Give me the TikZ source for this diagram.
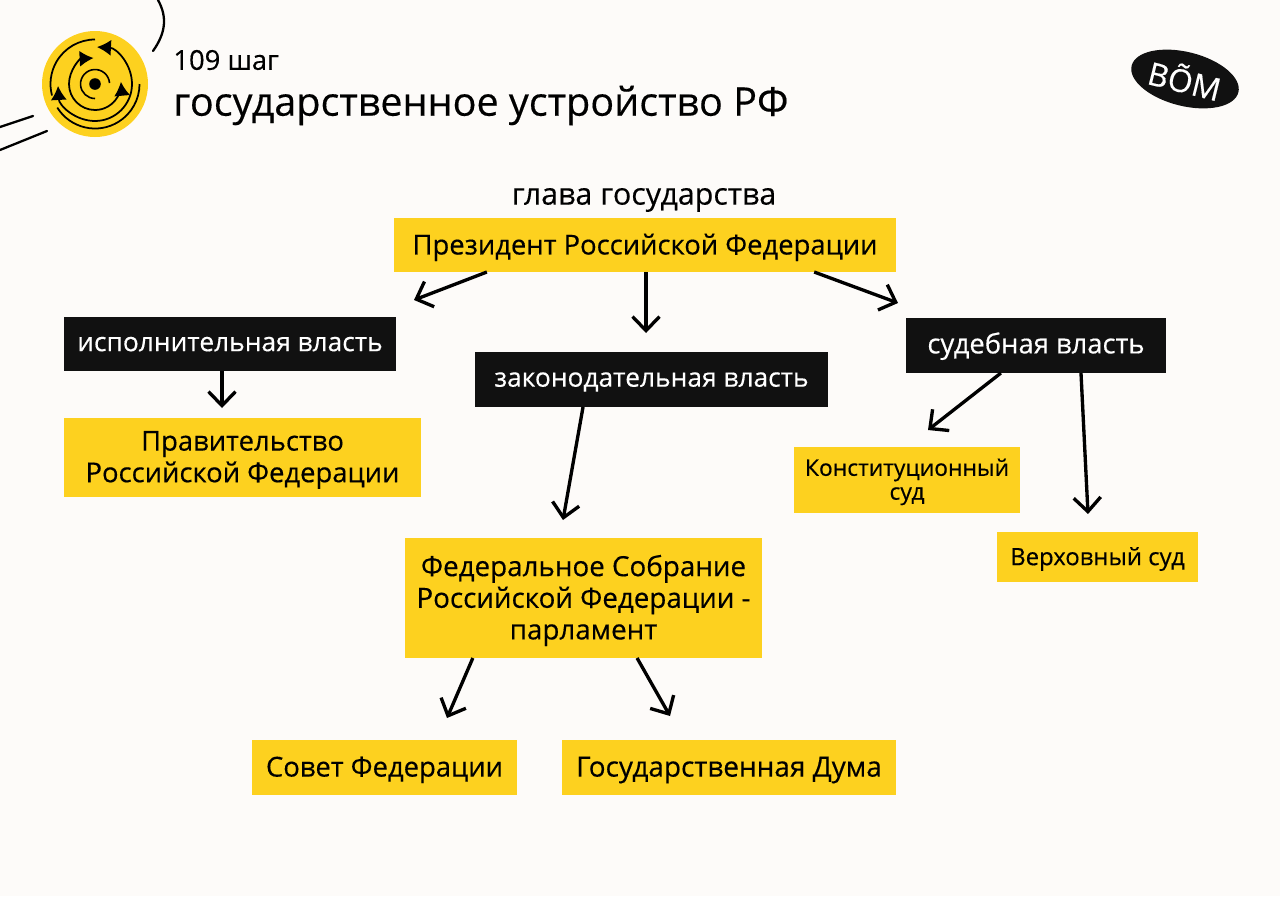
\documentclass[tikz,border=0pt]{standalone}
\usepackage{fontspec}
\setmainfont{Open Sans}[FakeBold=0.35]
\usetikzlibrary{arrows.meta,shapes.geometric,calc}
\definecolor{bgcream}{HTML}{FDFBF9}
\definecolor{boxyellow}{HTML}{FDD11F}
\definecolor{boxblack}{HTML}{111111}
\tikzset{
  yellowbox/.style={fill=boxyellow,text=black,inner sep=0pt,outer sep=0pt,align=center,text depth=1pt,font=\fontsize{15.6}{18}\selectfont},
  blackbox/.style={fill=boxblack,text=white,inner sep=0pt,outer sep=0pt,align=center,text depth=0pt,font=\fontsize{15}{18}\selectfont},
  arrowline/.style={line width=1.9pt,-{Straight Barb[length=2.8mm,width=5.4mm,line width=1.9pt]}},
  swoosh/.style={line width=1.3pt,line cap=round},
  badgehead/.style={line width=1pt,-{Latex[length=2.8mm,width=3.2mm]}},
}
\begin{document}
\begin{tikzpicture}[x=0.02cm,y=-0.02cm]
\useasboundingbox (0,0) rectangle (1280,896);
\fill[bgcream] (0,0) rectangle (1280,896);
% corner lines
\draw[swoosh] (158,0) .. controls (168,18) and (165,34) .. (153,51);
\draw[swoosh] (0,127) -- (33,116);
\draw[swoosh] (0,150) -- (47,131);
% round badge
\begin{scope}[shift={(95,84)},x=0.02cm,y=0.02cm]
\fill[boxyellow] (0,0) circle (53);
\fill[black] (0,0) circle (5.8);
\draw[line width=0.9pt] (14.5,1) arc[start angle=4,end angle=270,radius=14.5];
\draw[badgehead] (0,-26) arc[start angle=270,end angle=365,radius=26];
\draw[badgehead] (0,-26) arc[start angle=270,end angle=93,radius=26];
\draw[badgehead] (0,-37) arc[start angle=270,end angle=447,radius=37];
\draw[badgehead] (0,-37) arc[start angle=270,end angle=183,radius=37];
\draw[line width=1pt] (0,44.5) arc[start angle=90,end angle=195,radius=44.5];
\draw[line width=1pt] (-37.7,-23.6) arc[start angle=212,end angle=360,radius=44.5];
\end{scope}
% headings
\node[anchor=west,inner sep=0pt,font=\fontsize{15.6}{19}\selectfont] (stepnum) at (173,60) {109 шаг};
\node[anchor=west,inner sep=0pt,font=\fontsize{22.5}{25}\selectfont] (title) at (173,105.5) {государственное устройство РФ};
\node[ellipse,fill=boxblack,text=white,minimum width=110*0.02cm,minimum height=54*0.02cm,inner sep=0pt,rotate=-14,font=\fontsize{18}{20}\selectfont] (logo) at (1185,79) {ВÕМ};
\node[inner sep=0pt,font=\fontsize{17.3}{20}\selectfont] (headlabel) at (644,200) {глава государства};
% boxes
\node[yellowbox,minimum width=502*0.02cm,minimum height=54*0.02cm] (pres) at (645,245) {Президент Российской Федерации};
\node[blackbox,minimum width=332*0.02cm,minimum height=54*0.02cm] (exec) at (230,344) {исполнительная власть};
\node[blackbox,minimum width=353*0.02cm,minimum height=55*0.02cm] (legis) at (651.5,379.5) {законодательная власть};
\node[blackbox,minimum width=260*0.02cm,minimum height=55*0.02cm,text height=9pt,font=\fontsize{15.6}{18}\selectfont] (court) at (1036,345.5) {судебная власть};
\node[yellowbox,minimum width=357*0.02cm,minimum height=79*0.02cm] (gov) at (242.5,457.5) {Правительство\\Российской Федерации};
\node[yellowbox,minimum width=357*0.02cm,minimum height=120*0.02cm,font=\fontsize{15.8}{18}\selectfont] (fed) at (583.5,598) {Федеральное Собрание\\Российской Федерации -\\парламент};
\node[yellowbox,minimum width=226*0.02cm,minimum height=66*0.02cm,font=\fontsize{13}{13.6}\selectfont] (const) at (907,480) {Конституционный\\суд};
\node[yellowbox,minimum width=201*0.02cm,minimum height=50*0.02cm,font=\fontsize{13.6}{14}\selectfont] (supreme) at (1097.5,557) {Верховный суд};
\node[yellowbox,minimum width=265*0.02cm,minimum height=55*0.02cm] (council) at (384.5,767.5) {Совет Федерации};
\node[yellowbox,minimum width=334*0.02cm,minimum height=55*0.02cm,font=\fontsize{15.9}{18}\selectfont] (duma) at (729,767.5) {Государственная Дума};
% free arrow ends
\coordinate (tipexec) at (414,300);
\coordinate (tiplegis) at (646,333);
\coordinate (tipcourt) at (898,303);
\coordinate (tipgov) at (222,408);
\coordinate (tipfed) at (563,520);
\coordinate (tipconst) at (928,430);
\coordinate (tipsupreme) at (1088,514);
\coordinate (tipcouncil) at (447,718);
\coordinate (tipduma) at (670,716);
% arrows
\draw[arrowline] ($(pres.south west)!0.185!(pres.south east)$) -- (tipexec);
\draw[arrowline] (pres.south -| tiplegis) -- (tiplegis);
\draw[arrowline] ($(pres.south west)!0.837!(pres.south east)$) -- (tipcourt);
\draw[arrowline] (exec.south -| tipgov) -- (tipgov);
\draw[arrowline] ($(legis.south west)!0.306!(legis.south east)$) -- (tipfed);
\draw[arrowline] ($(court.south west)!0.365!(court.south east)$) -- (tipconst);
\draw[arrowline] ($(court.south west)!0.673!(court.south east)$) -- (tipsupreme);
\draw[arrowline] ($(fed.south west)!0.19!(fed.south east)$) -- (tipcouncil);
\draw[arrowline] ($(fed.south west)!0.65!(fed.south east)$) -- (tipduma);
\end{tikzpicture}
\end{document}
